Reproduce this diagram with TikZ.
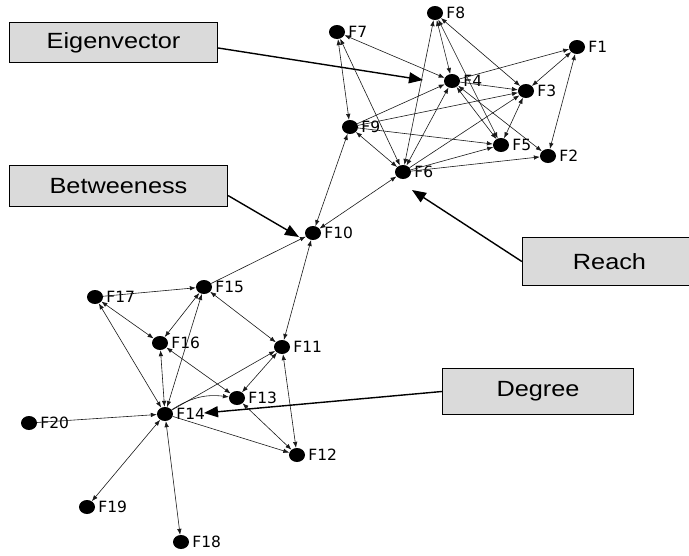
\documentclass[tikz,border=0pt]{standalone}
\usepackage{fontspec}
\usepackage{graphicx}
\setmainfont{Liberation Sans}
\newfontfamily\lblfont{DejaVu Sans}
\usetikzlibrary{arrows.meta,shapes.geometric}
\definecolor{boxgray}{RGB}{218,218,218}
\definecolor{edgecol}{RGB}{25,25,25}
\begin{document}
\begin{tikzpicture}[x=1pt,y=-1pt,
  >={Latex[length=6pt,width=4.5pt]},
  label distance=3pt,
  every label/.style={font=\lblfont\fontsize{15.5}{17}\selectfont, inner sep=0pt},
  fnode/.style={ellipse,fill=black,minimum width=16pt,minimum height=14pt,inner sep=0pt,label={right:#1}},
  ed/.style={line width=0.6pt, draw=edgecol},
  callbox/.style={draw, line width=1.3pt, fill=boxgray, inner sep=0pt,
     font=\fontsize{22}{24}\selectfont},
  callarrow/.style={line width=1.4pt, -{Triangle[length=14pt,width=11pt]}}
]
\useasboundingbox (0,0) rectangle (689,555);
\clip (0,0) rectangle (689,555);

% nodes
\node[fnode=F1]  (F1)  at (577,47)  {};
\node[fnode=F2]  (F2)  at (548,156) {};
\node[fnode=F3]  (F3)  at (526,91)  {};
\node[fnode=F4]  (F4)  at (452,81)  {};
\node[fnode=F5]  (F5)  at (501,145) {};
\node[fnode=F6]  (F6)  at (403,172) {};
\node[fnode=F7]  (F7)  at (337,32)  {};
\node[fnode=F8]  (F8)  at (435,13)  {};
\node[fnode=F9]  (F9)  at (350,127) {};
\node[fnode=F10] (F10) at (313,233) {};
\node[fnode=F11] (F11) at (282,347) {};
\node[fnode=F12] (F12) at (297,455) {};
\node[fnode=F13] (F13) at (237,398) {};
\node[fnode=F14] (F14) at (165,414) {};
\node[fnode=F15] (F15) at (204,287) {};
\node[fnode=F16] (F16) at (160,343) {};
\node[fnode=F17] (F17) at (95,297)  {};
\node[fnode=F18] (F18) at (181,542) {};
\node[fnode=F19] (F19) at (87,507)  {};
\node[fnode=F20] (F20) at (29,423)  {};

% top cluster edges
\draw[ed,<->] (F7) -- (F9);
\draw[ed,<->] (F7) -- (F6);
\draw[ed,<->] (F7) -- (F4);
\draw[ed,<->] (F8) -- (F4);
\draw[ed,<->] (F8) -- (F6);
\draw[ed,<->] (F8) -- (F5);
\draw[ed,<->] (F8) -- (F3);
\draw[ed,->] (F4) -- (F1);
\draw[ed,<->] (F3) -- (F1);
\draw[ed,<->] (F1) -- (F2);
\draw[ed,->] (F4) -- (F3);
\draw[ed,<->] (F4) -- (F5);
\draw[ed,<->] (F4) -- (F2);
\draw[ed,<->] (F3) -- (F5);
\draw[ed,->] (F9) -- (F3);
\draw[ed,->] (F6) -- (F3);
\draw[ed,->] (F9) -- (F4);
\draw[ed,<->] (F6) -- (F4);
\draw[ed,->] (F9) -- (F5);
\draw[ed,<->] (F9) -- (F6);
\draw[ed,->] (F6) -- (F5);
\draw[ed,->] (F6) -- (F2);
\draw[ed,<->] (F10) -- (F6);
\draw[ed,<->] (F10) -- (F9);
% lower cluster edges
\draw[ed,<->] (F10) -- (F11);
\draw[ed,->] (F15) -- (F10);
\draw[ed,->] (F17) -- (F15);
\draw[ed,<->] (F17) -- (F16);
\draw[ed,<->] (F17) -- (F14);
\draw[ed,<->] (F15) -- (F16);
\draw[ed,<->] (F14) -- (F15);
\draw[ed,<->] (F15) -- (F11);
\draw[ed,<->] (F16) -- (F14);
\draw[ed,<->] (F16) -- (F13);
\draw[ed,->] (F14) -- (F11);
\draw[ed,<->] (F11) -- (F13);
\draw[ed,<->] (F11) -- (F12);
\draw[ed,<->] (F13) -- (F12);
\draw[ed,->] (F14) to[bend left=20] (F13);
\draw[ed,->] (F14) -- (F12);
\draw[ed,->] (F20) -- (F14);
\draw[ed,<->] (F19) -- (F14);
\draw[ed,<->] (F18) -- (F14);

% callout boxes
\node[callbox, minimum width=208pt, minimum height=40pt] (eig) at (113.5,42.5) {\scalebox{1.15}[1]{Eigenvector}};
\node[callbox, minimum width=218pt, minimum height=41pt] (bet) at (118.5,186) {\scalebox{1.15}[1]{Betweeness}};
\node[callbox, minimum width=174pt, minimum height=48pt] (reach) at (609.5,261.5) {\scalebox{1.15}[1]{Reach}};
\node[callbox, minimum width=191pt, minimum height=46pt] (deg) at (538,391.5) {\scalebox{1.15}[1]{Degree}};

\coordinate (eigtip) at (423,80);
\coordinate (bettip) at (299,237);
\coordinate (reachtip) at (412,190);
\coordinate (degtip) at (204,413);

\draw[callarrow] (eig.-3) -- (eigtip);
\draw[callarrow] (bet.-5) -- (bettip);
\draw[callarrow] (reach.west) -- (reachtip);
\draw[callarrow] (deg.west) -- (degtip);
\end{tikzpicture}
\end{document}
